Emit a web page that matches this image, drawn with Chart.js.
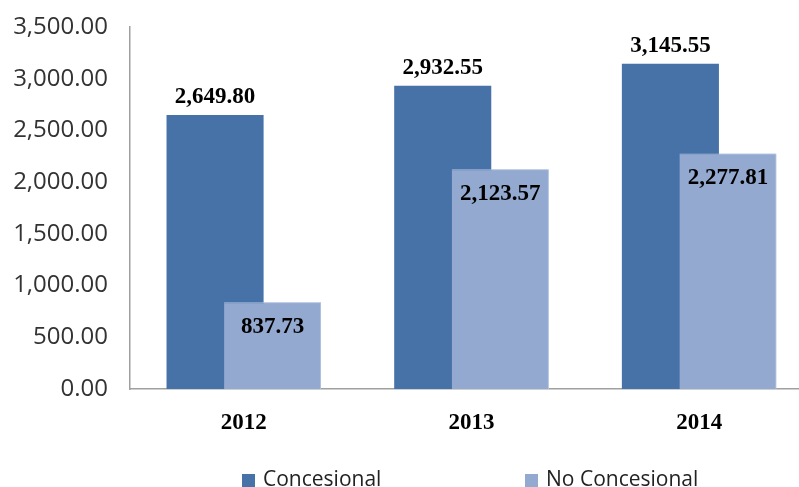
<!DOCTYPE html>
<html>
<head>
<meta charset="utf-8">
<script src="https://cdn.jsdelivr.net/npm/chart.js@4/dist/chart.umd.min.js"></script>
<style>
  html, body { margin: 0; padding: 0; background: #fff; overflow: hidden; }
  #wrap { position: relative; width: 813px; height: 487px; }
  .leg { position: absolute; top: 465px; font: 21px/26px "Open Sans", sans-serif; color: #222; white-space: nowrap; }
  .leg i { display: inline-block; width: 13px; height: 13px; margin-right: 8px; vertical-align: -1px; }
</style>
</head>
<body>
<div id="wrap">
  <canvas id="chart"></canvas>
  <div class="leg" id="leg1" style="left:242px"><i></i><span></span></div>
  <div class="leg" id="leg2" style="left:525px"><i></i><span></span></div>
</div>
<script>
const years = ["2012", "2013", "2014"];
const concesional = [2649.80, 2932.55, 3145.55];
const noConcesional = [837.73, 2123.57, 2277.81];
const seriesNames = ["Concesional", "No Concesional"];
const colors = ["#4672a8", "#93a9d0"];

const fmt = v => Number(v).toLocaleString("en-US", { minimumFractionDigits: 2, maximumFractionDigits: 2 });

// legend (html, spaced like the original)
["leg1", "leg2"].forEach((id, i) => {
  const el = document.getElementById(id);
  el.querySelector("i").style.background = colors[i];
  el.querySelector("span").textContent = seriesNames[i];
});

// light bars sit over the dark ones, then value labels
const overlapAndLabels = {
  id: "overlapAndLabels",
  afterDatasetsDraw(chart) {
    const ctx = chart.ctx;
    chart.getDatasetMeta(1).data.forEach(bar => bar.draw(ctx));

    ctx.save();
    ctx.font = "bold 23px 'Liberation Serif', serif";
    ctx.fillStyle = "#000";
    ctx.textAlign = "center";
    ctx.textBaseline = "middle";
    chart.getDatasetMeta(0).data.forEach((bar, i) => {
      ctx.fillText(fmt(concesional[i]), bar.x, bar.y - 18);
    });
    chart.getDatasetMeta(1).data.forEach((bar, i) => {
      ctx.fillText(fmt(noConcesional[i]), bar.x, bar.y + 25);
    });
    ctx.restore();
  }
};

new Chart(document.getElementById("chart"), {
  type: "bar",
  data: {
    labels: years,
    datasets: [
      { label: seriesNames[0], data: concesional, backgroundColor: colors[0] },
      {
        label: seriesNames[1], data: noConcesional, backgroundColor: colors[1],
        borderColor: "#b3c3df", borderWidth: { top: 1, right: 1, left: 0, bottom: 0 }
      }
    ]
  },
  options: {
    responsive: true,
    maintainAspectRatio: false,
    animation: false,
    categoryPercentage: 0.5055,
    barPercentage: 1.687,
    layout: { padding: { top: 27, left: 0, right: 0, bottom: 0 } },
    plugins: {
      legend: { display: false },
      tooltip: { enabled: false }
    },
    scales: {
      x: {
        grid: { display: false },
        border: { display: true, color: "#a0a0a0", width: 1.5 },
        ticks: {
          padding: 12,
          color: "#000",
          font: { family: "'Liberation Serif', serif", size: 23, weight: "bold" }
        },
        afterFit(scale) { scale.height = 98; }
      },
      y: {
        min: 0,
        max: 3500,
        // tick marks hidden (grid off) but their length keeps labels off the axis
        grid: { display: false, drawTicks: true, tickLength: 22 },
        border: { display: true, color: "#a0a0a0", width: 1.5 },
        ticks: {
          stepSize: 500,
          padding: 0,
          color: "#333",
          font: { family: "'Open Sans', sans-serif", size: 24 },
          callback: v => fmt(v)
        },
        afterFit(scale) { scale.width = 130; }
      }
    }
  },
  plugins: [overlapAndLabels]
});
</script>
</body>
</html>
